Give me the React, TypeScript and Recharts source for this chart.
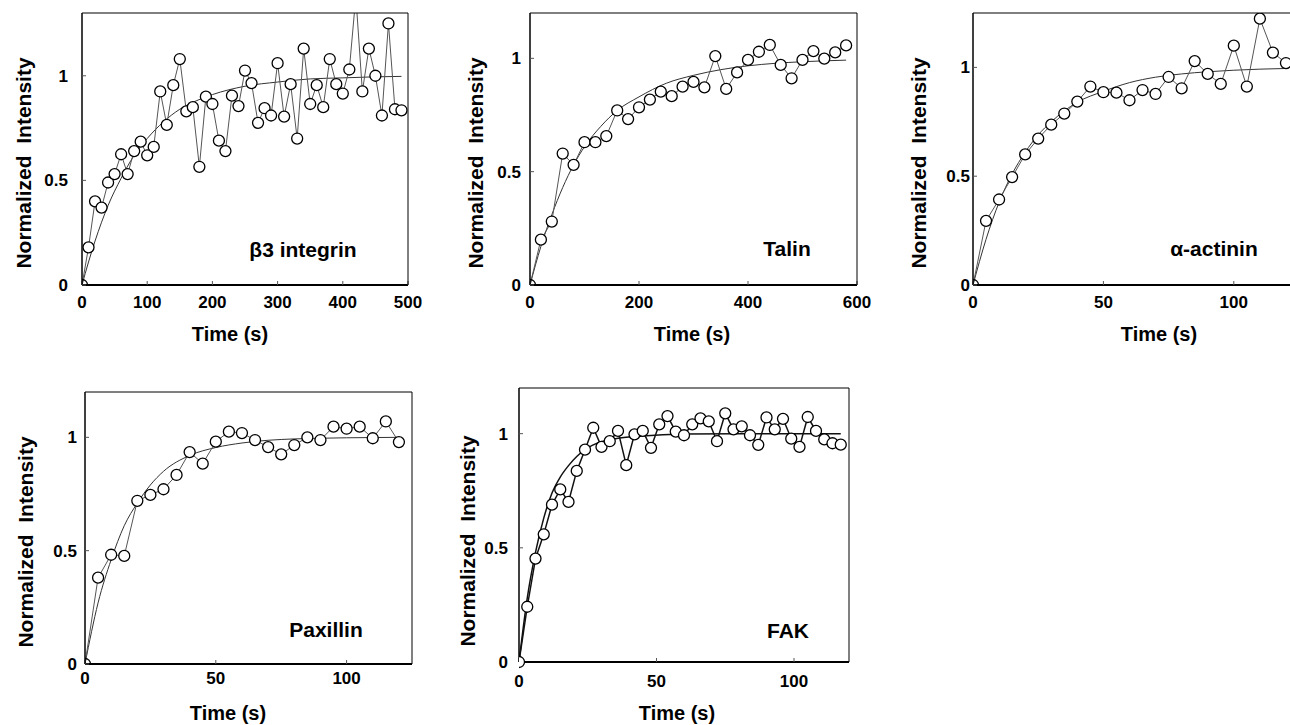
import { ComposedChart, Line, XAxis, YAxis } from 'recharts'

const FONT = '"Liberation Sans", Arial, sans-serif'

// β3 integrin
const integrinTime = [0, 10, 20, 30, 40, 50, 60, 70, 80, 90, 100, 110, 120, 130, 140, 150, 160, 170, 180, 190, 200, 210, 220, 230, 240, 250, 260, 270, 280, 290, 300, 310, 320, 330, 340, 350, 360, 370, 380, 390, 400, 410, 420, 430, 440, 450, 460, 470, 480, 490]
const integrinValue = [0, 0.18, 0.4, 0.37, 0.49, 0.53, 0.625, 0.53, 0.64, 0.685, 0.62, 0.66, 0.925, 0.765, 0.955, 1.08, 0.83, 0.85, 0.565, 0.9, 0.865, 0.69, 0.64, 0.905, 0.855, 1.025, 0.965, 0.775, 0.845, 0.81, 1.06, 0.805, 0.96, 0.7, 1.13, 0.865, 0.955, 0.85, 1.08, 0.96, 0.915, 1.03, 1.38, 0.925, 1.13, 1.0, 0.81, 1.25, 0.84, 0.835]
const integrinFitTime = [0, 10, 20, 30, 40, 60, 80, 100, 125, 150, 175, 200, 250, 300, 350, 400, 450, 490]
const integrinFitValue = [0, 0.11, 0.21, 0.3, 0.38, 0.51, 0.62, 0.7, 0.78, 0.84, 0.88, 0.91, 0.95, 0.97, 0.985, 0.99, 0.995, 0.997]

// Talin
const talinTime = [0, 20, 40, 60, 80, 100, 120, 140, 160, 180, 200, 220, 240, 260, 280, 300, 320, 340, 360, 380, 400, 420, 440, 460, 480, 500, 520, 540, 560, 580]
const talinValue = [0, 0.2, 0.28, 0.58, 0.53, 0.63, 0.63, 0.657, 0.77, 0.732, 0.784, 0.818, 0.853, 0.833, 0.875, 0.896, 0.872, 1.01, 0.865, 0.938, 0.993, 1.029, 1.059, 0.971, 0.912, 0.993, 1.032, 0.999, 1.026, 1.057]
const talinFitTime = [0, 20, 40, 60, 80, 100, 130, 160, 200, 250, 300, 350, 400, 450, 500, 580]
const talinFitValue = [0, 0.17, 0.31, 0.43, 0.53, 0.61, 0.7, 0.77, 0.83, 0.89, 0.925, 0.95, 0.967, 0.978, 0.985, 0.992]

// α-actinin
const actininTime = [0, 5, 10, 15, 20, 25, 30, 35, 40, 45, 50, 55, 60, 65, 70, 75, 80, 85, 90, 95, 100, 105, 110, 115, 120]
const actininValue = [0, 0.295, 0.393, 0.496, 0.6, 0.673, 0.737, 0.788, 0.843, 0.912, 0.886, 0.884, 0.849, 0.896, 0.878, 0.956, 0.904, 1.029, 0.97, 0.924, 1.1, 0.912, 1.224, 1.068, 1.02]
const actininFitTime = [0, 5, 10, 15, 20, 25, 30, 40, 50, 60, 70, 80, 90, 100, 110, 120]
const actininFitValue = [0, 0.21, 0.38, 0.51, 0.61, 0.69, 0.75, 0.84, 0.89, 0.93, 0.955, 0.97, 0.98, 0.987, 0.992, 0.995]

// Paxillin
const paxillinTime = [0, 5, 10, 15, 20, 25, 30, 35, 40, 45, 50, 55, 60, 65, 70, 75, 80, 85, 90, 95, 100, 105, 110, 115, 120]
const paxillinValue = [0, 0.381, 0.482, 0.477, 0.72, 0.746, 0.771, 0.834, 0.935, 0.884, 0.981, 1.025, 1.019, 0.988, 0.957, 0.925, 0.966, 1.0, 0.988, 1.047, 1.038, 1.047, 0.996, 1.07, 0.979]
const paxillinFitTime = [0, 5, 10, 15, 20, 25, 30, 40, 50, 60, 70, 80, 90, 100, 110, 120]
const paxillinFitValue = [0, 0.27, 0.46, 0.61, 0.71, 0.79, 0.85, 0.92, 0.955, 0.975, 0.987, 0.993, 0.996, 0.998, 0.999, 1.0]

// FAK
const fakTime = [0, 3, 6, 9, 12, 15, 18, 21, 24, 27, 30, 33, 36, 39, 42, 45, 48, 51, 54, 57, 60, 63, 66, 69, 72, 75, 78, 81, 84, 87, 90, 93, 96, 99, 102, 105, 108, 111, 114, 117]
const fakValue = [0, 0.242, 0.453, 0.559, 0.689, 0.756, 0.701, 0.837, 0.93, 1.026, 0.942, 0.967, 1.012, 0.862, 0.997, 1.012, 0.938, 1.041, 1.077, 1.009, 0.993, 1.041, 1.067, 1.054, 0.967, 1.089, 1.019, 1.032, 0.993, 0.951, 1.071, 1.019, 1.065, 0.978, 0.942, 1.073, 1.012, 0.975, 0.958, 0.952]
const fakFitTime = [0, 3, 6, 9, 12, 15, 18, 21, 24, 30, 36, 45, 60, 80, 100, 117]
const fakFitValue = [0, 0.28, 0.48, 0.63, 0.74, 0.81, 0.86, 0.9, 0.93, 0.965, 0.98, 0.99, 0.998, 1, 1, 1]

const yTicks = [0, 0.5, 1]

const zip = (ts: number[], vs: number[]) => ts.map((t, i) => ({ t, v: vs[i] }))

const YW = 70
const XH = 40
const PAD_TOP = 5
const PAD_RIGHT = 24

interface PanelProps {
  left: number
  top: number
  width: number
  height: number
  points: { t: number; v: number }[]
  fit: { t: number; v: number }[]
  xMax: number
  xTicks: number[]
  yMax: number
  xMargin: number
  yMargin: number
  clip?: boolean
  bold?: boolean
}

function Panel({ left, top, width, height, points, fit, xMax, xTicks, yMax, xMargin, yMargin, clip = true, bold = false }: PanelProps) {
  const tickStyle = { fontSize: 17, fontWeight: 'bold', fill: '#000', fontFamily: FONT }
  const renderDot = (props: any) => {
    const { cx, cy, index, payload } = props
    const r = 5.5
    if (clip && payload.t === 0 && payload.v === 0) {
      // only the part inside the plot frame shows
      return <path key={`d${index}`} d={`M ${cx + r} ${cy} A ${r} ${r} 0 0 0 ${cx} ${cy - r}`} fill="none" stroke="#000" strokeWidth={1.3} />
    }
    return <circle key={`d${index}`} cx={cx} cy={cy} r={r} fill="#fff" stroke="#000" strokeWidth={1.3} />
  }
  // top and right axes are 1px wide so recharts still draws them
  return (
    <div style={{ position: 'absolute', left: left - YW, top: top - PAD_TOP }}>
      <ComposedChart
        width={YW + width + PAD_RIGHT}
        height={PAD_TOP + height + XH}
        margin={{ top: PAD_TOP - 1, right: PAD_RIGHT - 1, left: 0, bottom: 0 }}
      >
        <XAxis
          dataKey="t"
          type="number"
          domain={[0, xMax]}
          ticks={xTicks}
          interval={0}
          allowDataOverflow
          height={XH}
          tickSize={-4}
          tickMargin={xMargin}
          tick={tickStyle}
          axisLine={{ stroke: '#000', strokeWidth: 2 }}
          tickLine={{ stroke: '#555' }}
        />
        <XAxis
          xAxisId="top"
          orientation="top"
          type="number"
          domain={[0, xMax]}
          ticks={xTicks}
          interval={0}
          height={1}
          tickSize={-4}
          tick={false}
          axisLine={{ stroke: '#000', strokeWidth: 1 }}
          tickLine={{ stroke: '#555' }}
        />
        <YAxis
          type="number"
          domain={[0, yMax]}
          ticks={yTicks}
          interval={0}
          allowDataOverflow={clip}
          width={YW}
          tickSize={-4}
          tickMargin={yMargin}
          tick={tickStyle}
          axisLine={{ stroke: '#000', strokeWidth: 1.5 }}
          tickLine={{ stroke: '#555' }}
        />
        <YAxis
          yAxisId="right"
          orientation="right"
          type="number"
          domain={[0, yMax]}
          ticks={yTicks}
          interval={0}
          width={1}
          tickSize={-4}
          tick={false}
          axisLine={{ stroke: '#000', strokeWidth: 1 }}
          tickLine={{ stroke: '#555' }}
        />
        <Line
          data={fit}
          dataKey="v"
          type="monotone"
          stroke={bold ? '#111' : '#333'}
          strokeWidth={bold ? 1.5 : 1}
          dot={false}
          activeDot={false}
          isAnimationActive={false}
        />
        <Line
          data={points}
          dataKey="v"
          type="linear"
          stroke={bold ? '#111' : '#555'}
          strokeWidth={bold ? 1.5 : 1}
          dot={renderDot}
          activeDot={false}
          isAnimationActive={false}
        />
      </ComposedChart>
    </div>
  )
}

function Caption({ x, y, text, size = 21, rotate = false }: { x: number; y: number; text: string; size?: number; rotate?: boolean }) {
  return (
    <div
      style={{
        position: 'absolute',
        left: x,
        top: y,
        transform: `translate(-50%, -50%)${rotate ? ' rotate(-90deg)' : ''}`,
        fontFamily: FONT,
        fontWeight: 'bold',
        fontSize: size,
        whiteSpace: 'pre',
        color: '#000',
        lineHeight: 1,
      }}
    >
      {text}
    </div>
  )
}

export default function App() {
  return (
    <div style={{ position: 'absolute', left: 0, top: 0, width: 1290, height: 725, overflow: 'hidden', background: '#fff' }}>
      <Panel left={82} top={13} width={326} height={272} points={zip(integrinTime, integrinValue)} fit={zip(integrinFitTime, integrinFitValue)} xMax={500} xTicks={[0, 100, 200, 300, 400, 500]} yMax={1.3} xMargin={15} yMargin={18} />
      <Panel left={530} top={13} width={327} height={272} points={zip(talinTime, talinValue)} fit={zip(talinFitTime, talinFitValue)} xMax={600} xTicks={[0, 200, 400, 600]} yMax={1.2} xMargin={15} yMargin={13} />
      <Panel left={973} top={13} width={326} height={272} points={zip(actininTime, actininValue)} fit={zip(actininFitTime, actininFitValue)} xMax={125} xTicks={[0, 50, 100]} yMax={1.25} xMargin={15} yMargin={7} />
      <Panel left={85} top={392} width={327} height={272} points={zip(paxillinTime, paxillinValue)} fit={zip(paxillinFitTime, paxillinFitValue)} xMax={125} xTicks={[0, 50, 100]} yMax={1.2} xMargin={12} yMargin={12} />
      <Panel left={519} top={388} width={330} height={274} points={zip(fakTime, fakValue)} fit={zip(fakFitTime, fakFitValue)} xMax={120} xTicks={[0, 50, 100]} yMax={1.2} xMargin={17} yMargin={15} clip={false} bold />

      <Caption x={23} y={163} text={'Normalized  Intensity'} rotate />
      <Caption x={475} y={163} text={'Normalized  Intensity'} rotate />
      <Caption x={918} y={163} text={'Normalized  Intensity'} rotate />
      <Caption x={25} y={542} text={'Normalized  Intensity'} rotate />
      <Caption x={467} y={541} text={'Normalized  Intensity'} rotate />

      <Caption x={230} y={334} text="Time (s)" size={20} />
      <Caption x={692} y={334} text="Time (s)" size={20} />
      <Caption x={1159} y={334} text="Time (s)" size={20} />
      <Caption x={228} y={713} text="Time (s)" size={20} />
      <Caption x={677} y={713} text="Time (s)" size={20} />

      <Caption x={303} y={249} text="β3 integrin" />
      <Caption x={787} y={248} text="Talin" />
      <Caption x={1214} y={248} text="α-actinin" />
      <Caption x={326} y={629} text="Paxillin" />
      <Caption x={788} y={630} text="FAK" />
    </div>
  )
}
